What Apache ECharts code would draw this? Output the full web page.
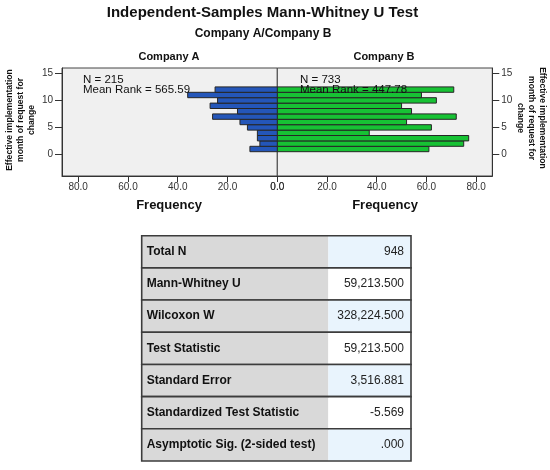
<!DOCTYPE html>
<html><head><meta charset="utf-8">
<script src="https://cdn.jsdelivr.net/npm/echarts@6/dist/echarts.min.js"></script>
<style>html,body{margin:0;padding:0;background:#fff}#c{width:550px;height:470px}</style>
</head><body><div id="c"></div>
<script>
// ---- data ----
const months = [1,2,3,4,5,6,7,8,9,10,11,12];
const companyA = [11,7,8,8,12,15,26,16,27,24,36,25];
const companyB = [61,75,77,37,62,52,72,54,50,64,58,71];
const yTicks = [0,5,10,15];
const statLabels = ['Total N','Mann-Whitney U','Wilcoxon W','Test Statistic','Standard Error','Standardized Test Statistic','Asymptotic Sig. (2-sided test)'];
const statValues = ['948','59,213.500','328,224.500','59,213.500','3,516.881','-5.569','.000'];
const infoA = ['N = 215','Mean Rank = 565.59'];
const infoB = ['N = 733','Mean Rank = 447.78'];

const FF = '"Liberation Sans", Arial, sans-serif';
const chart = echarts.init(document.getElementById('c'), null, {renderer:'canvas'});

function barRender(color){
  return function(params, api){
    const v = api.value(0), m = api.value(1);
    const p0 = api.coord([0, m]);
    const p1 = api.coord([v, m]);
    const h = api.size([0, 1])[1];
    return {type:'rect', shape:{x:Math.min(p0[0],p1[0]), y:p0[1]-h/2, width:Math.abs(p1[0]-p0[0]), height:h},
      style:{fill:color, stroke:'#262626', lineWidth:1}};
  };
}
const SPLIT = 0.693;
function tableRender(params, api){
  const i = api.value(1);
  const c = api.coord([0, i]);
  const h = api.size([0, 1])[1];
  const x0 = c[0], x1 = api.coord([1, i])[0], xs = api.coord([SPLIT, i])[0];
  const y0 = c[1] - h/2;
  return {type:'group', children:[
    {type:'rect', shape:{x:x0, y:y0, width:xs-x0, height:h}, style:{fill:'#d9d9d9'}},
    {type:'rect', shape:{x:xs, y:y0, width:x1-xs, height:h}, style:{fill: i%2===0 ? '#e9f4fd' : '#ffffff'}},
    {type:'rect', shape:{x:x0, y:y0, width:x1-x0, height:h}, style:{fill:'none', stroke:'#3c3c3c', lineWidth:1.6}},
    {type:'text', x:x0+5, y:c[1], style:{text:statLabels[i], font:'bold 12px '+FF, fill:'#111', align:'left', verticalAlign:'middle'}},
    {type:'text', x:x1-7, y:c[1], style:{text:statValues[i], font:'12px '+FF, fill:'#222', align:'right', verticalAlign:'middle'}}
  ]};
}

const xCommon = {
  type:'value', min:0, max:86.5, interval:20,
  axisLine:{show:true, onZero:false, lineStyle:{color:'#333'}},
  axisTick:{show:true, inside:false, length:6, lineStyle:{color:'#333'}},
  axisLabel:{showMaxLabel:false, formatter:v=>v.toFixed(1), color:'#333', fontSize:10, fontFamily:FF, margin:6},
  splitLine:{show:false}
};
const yCommon = {
  type:'value', min:-4, max:16,
  axisLine:{show:true, onZero:false, lineStyle:{color:'#333'}},
  axisTick:{show:true, inside:false, length:7, customValues:yTicks, lineStyle:{color:'#333'}},
  axisLabel:{customValues:yTicks, color:'#333', fontSize:10, fontFamily:FF, margin:9},
  splitLine:{show:false}
};

function txt(text, x, y, font, opts){
  return Object.assign({type:'text', x:x, y:y, z:100, style:{text:text, font:font, fill:'#111', align:'center', verticalAlign:'middle', lineHeight:11}}, opts||{});
}

const option = {
  animation:false,
  backgroundColor:'#ffffff',
  grid:[
    {left:62, top:68, width:215.3, height:108, show:true, backgroundColor:'#f0f0f0', borderColor:'#444', borderWidth:1},
    {left:277.3, top:68, width:215, height:108, show:true, backgroundColor:'#f0f0f0', borderColor:'#444', borderWidth:1},
    {left:141.7, top:235.7, width:269.3, height:225.3}
  ],
  xAxis:[
    Object.assign({gridIndex:0, inverse:true}, xCommon),
    Object.assign({gridIndex:1}, xCommon),
    {gridIndex:2, type:'value', min:0, max:1, show:false}
  ],
  yAxis:[
    Object.assign({gridIndex:0, position:'left'}, yCommon),
    Object.assign({gridIndex:1, position:'right'}, yCommon),
    {gridIndex:2, type:'category', data:statLabels, inverse:true, show:false}
  ],
  series:[
    {type:'custom', xAxisIndex:0, yAxisIndex:0, clip:true, renderItem:barRender('#2456b9'),
      encode:{x:0, y:1}, data:months.map((m,i)=>[companyA[i], m])},
    {type:'custom', xAxisIndex:1, yAxisIndex:1, clip:true, renderItem:barRender('#17c234'),
      encode:{x:0, y:1}, data:months.map((m,i)=>[companyB[i], m])},
    {type:'custom', xAxisIndex:2, yAxisIndex:2, renderItem:tableRender,
      encode:{x:0, y:1}, data:statLabels.map((l,i)=>[0, i])}
  ],
  graphic:[
    txt('Independent-Samples Mann-Whitney U Test', 262.5, 13, 'bold 15px '+FF),
    txt('Company A/Company B', 263, 34, 'bold 12px '+FF),
    txt('Company A', 169, 57, 'bold 11px '+FF),
    txt('Company B', 384, 57, 'bold 11px '+FF),
    txt('Frequency', 169, 205, 'bold 13px '+FF),
    txt('Frequency', 385, 205, 'bold 13px '+FF),
    txt(infoA.join('\n'), 83, 85, '11.5px '+FF, {style:{text:infoA.join('\n'), font:'11.5px '+FF, fill:'#111', align:'left', verticalAlign:'middle', lineHeight:9.5}}),
    txt(infoB.join('\n'), 300, 85, '11.5px '+FF, {style:{text:infoB.join('\n'), font:'11.5px '+FF, fill:'#111', align:'left', verticalAlign:'middle', lineHeight:9.5}}),
    txt('Effective implementation\nmonth of request for\nchange', 21, 120, 'bold 8.6px '+FF, {rotation:Math.PI/2}),
    txt('Effective implementation\nmonth of request for\nchange', 531, 118, 'bold 8.6px '+FF, {rotation:-Math.PI/2})
  ]
};
chart.setOption(option);
</script>
</body></html>
